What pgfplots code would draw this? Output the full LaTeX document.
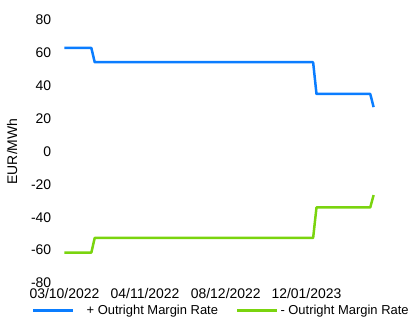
\documentclass[border=0pt]{standalone}
\usepackage{fontspec}
\setmainfont{Liberation Sans}
\usepackage{pgfplots}
\pgfplotsset{compat=1.18}
\definecolor{bl}{RGB}{10,125,255}
\definecolor{gr}{RGB}{122,212,14}
\begin{document}
\begin{tikzpicture}
\useasboundingbox (-61.1bp,-44bp) rectangle (356.9bp,283bp);
\begin{axis}[
  scale only axis,
  width=322.6bp, height=263bp,
  xmin=-1, xmax=95,
  ymin=-80, ymax=80,
  ytick={-80,-60,...,80},
  xtick={0,24,48,72},
  xticklabels={03/10/2022,04/11/2022,08/12/2022,12/01/2023},
  axis line style={draw=none},
  major tick length=0pt,
  tick style={draw=none},
  /pgf/number format/assume math mode=true,
  tick label style={font=\fontsize{14}{16}\selectfont},
  yticklabel style={xshift=-6.4bp},
  xticklabel style={yshift=-2.3bp},
  ylabel={EUR/MWh},
  ylabel style={at={(axis description cs:-0.152,0.5)}, anchor=center, font=\fontsize{14}{16}\selectfont},
  legend style={at={(axis description cs:0.5,0)}, anchor=center, xshift=-1bp, yshift=-27.7bp, draw=none, fill=none,
    font=\fontsize{13}{15}\selectfont, legend columns=2,
    /tikz/every even column/.append style={column sep=16bp}},
  legend image code/.code={\draw[#1, line width=2.5pt] (0bp,0bp) -- (40bp,0bp);},
]
\addplot[bl, line width=2.5pt, line join=round] coordinates {
  (0,63) (8,63) (9,54.3) (74,54.3) (75,35) (91,35) (92,27)
};
\addlegendentry{\hspace{10bp}+ Outright Margin Rate}
\addplot[gr, line width=2.5pt, line join=round] coordinates {
  (0,-61.5) (8,-61.5) (9,-52.6) (74,-52.6) (75,-34) (91,-34) (92,-26.5)
};
\addlegendentry{- Outright Margin Rate}
\end{axis}
\end{tikzpicture}
\end{document}
